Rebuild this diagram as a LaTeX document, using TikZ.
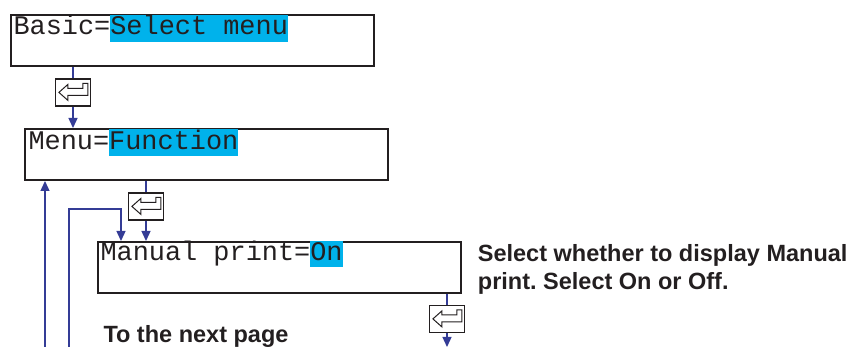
\documentclass[tikz,border=0pt]{standalone}
\usepackage{fontspec}
\setmainfont{Liberation Sans}
\newfontfamily\monofam{Liberation Mono}
\usetikzlibrary{arrows.meta}
\frenchspacing
\definecolor{hlc}{RGB}{0,178,235}
\definecolor{linec}{RGB}{52,60,150}
\definecolor{ink}{RGB}{35,31,32}
\newcommand\hlt[1]{{\setlength\fboxsep{0pt}\colorbox{hlc}{\rule[-6.7pt]{0pt}{26.7pt}#1}}}
\tikzset{
  scrbox/.style={draw=ink, line width=2pt, anchor=north west, inner sep=0pt, minimum width=363pt, minimum height=51pt},
  scrtext/.style={anchor=base west, inner sep=0pt, text=ink, font=\monofam\fontsize{26.9}{30}\selectfont},
  keybox/.style={draw=ink, line width=1.2pt, fill=white, inner sep=0pt, minimum width=35pt, minimum height=27pt},
  note/.style={anchor=base west, inner sep=0pt, text=ink, font=\bfseries\fontsize{23.5}{27.6}\selectfont, align=left},
  flow/.style={draw=linec, line width=1.3pt},
  flowarr/.style={flow, -{Triangle[width=9pt,length=10pt]}},
}
\newcommand\enterglyph[1]{%
  \draw[ink, line width=1pt, line join=miter]
    ([shift={(4,14)}]#1.north west) -- ([shift={(13,6)}]#1.north west)
    -- ([shift={(13,10)}]#1.north west) -- ([shift={(28,10)}]#1.north west)
    -- ([shift={(28,5)}]#1.north west) -- ([shift={(33,5)}]#1.north west)
    -- ([shift={(33,17)}]#1.north west) -- ([shift={(13,17)}]#1.north west)
    -- ([shift={(13,22)}]#1.north west) -- cycle;}
\begin{document}
\begin{tikzpicture}[x=1pt,y=-1pt]
\useasboundingbox (0,0) rectangle (857,347);
% screens
\node[scrbox] (b1) at (10,14) {};
\node[scrbox] (b2) at (24,128) {};
\node[scrbox] (b3) at (97,241) {};
\node[scrtext] (t1) at (13.3,35) {Basic=\hlt{Select menu}};
\node[scrtext] (t2) at (28.3,149.3) {Menu=\hlt{Function}};
\node[scrtext] (t3) at (100.3,260.7) {Manual print=\hlt{On}};
% enter keys
\node[keybox] (k1) at (73,92.5) {};
\node[keybox] (k2) at (146,206.5) {};
\node[keybox] (k3) at (447,319) {};
\enterglyph{k1}
\enterglyph{k2}
\enterglyph{k3}
% connectors
\draw[flow] (b1.south -| k1) -- (k1.north);
\draw[flowarr] (k1.south) -- (b2.north -| k1);
\draw[flow] (b2.south -| k2) -- (k2.north);
\draw[flowarr] (k2.south) -- (b3.north -| k2);
\draw[flow] (b3.south -| k3) -- (k3.north);
\coordinate (e3) at (447,347);
\draw[flowarr] (k3.south) -- (e3);
\coordinate (l1) at (69,347);
\coordinate (c1) at (121,209);
\draw[flowarr] (l1) |- (c1) -- (c1 |- b3.north);
\coordinate (l2) at (45,347);
\draw[flowarr] (l2) -- (l2 |- b2.south);
% notes
\node[note] (n1) at (103.3,342) {To the next page};
\node[note] (n2) at (477.7,289.3) {Select whether to display Manual\\print. Select On or Off.};
\end{tikzpicture}
\end{document}
